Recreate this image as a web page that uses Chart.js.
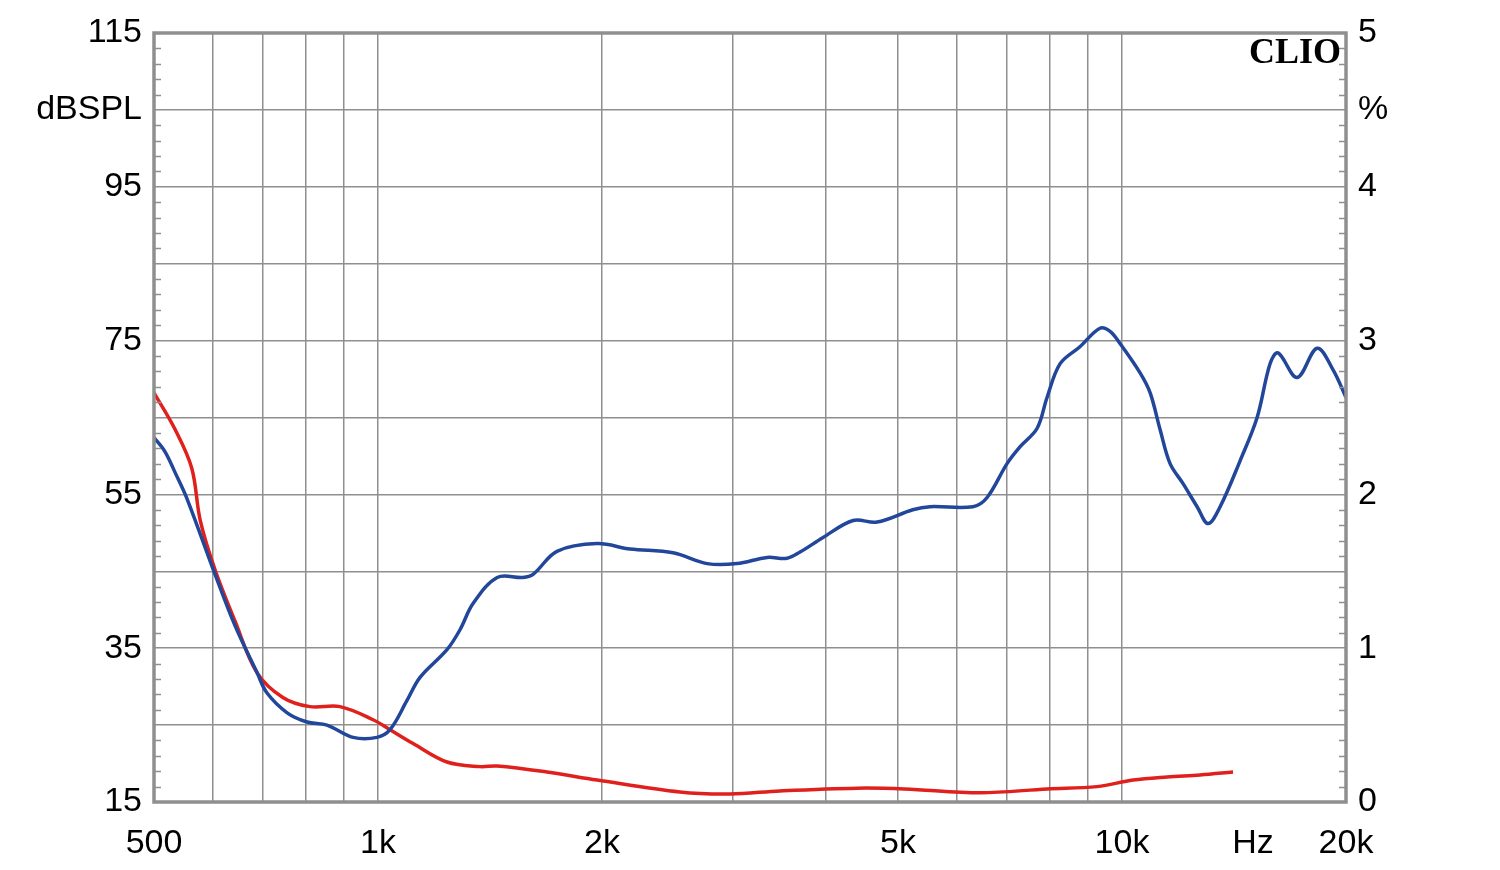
<!DOCTYPE html>
<html>
<head>
<meta charset="utf-8">
<script src="https://cdn.jsdelivr.net/npm/chart.js@4/dist/chart.umd.min.js"></script>
<style>
  html, body { margin: 0; padding: 0; background: #fff; }
  #wrap { width: 1500px; height: 870px; }
</style>
</head>
<body>
<div id="wrap"><canvas id="graf" width="1500" height="870"></canvas></div>
<script>
// blue curve (Hz / %)
const blueFreq = [500, 517, 534, 554, 604, 642, 688, 709, 755, 803, 854, 926, 997, 1038, 1094, 1139, 1238, 1289, 1342, 1446, 1566, 1616, 1740, 1970, 2182, 2492, 2769, 3037, 3334, 3546, 3692, 3965, 4351, 4686, 5233, 5520, 6305, 6587, 7006, 7296, 7690, 7929, 8257, 8779, 9340, 9637, 9942, 10575, 10910, 11252, 11604, 12080, 12616, 13054, 13547, 14415, 15190, 15811, 16208, 17195, 18290, 19216, 20000];
const bluePct = [2.37, 2.28, 2.14, 1.97, 1.48, 1.15, 0.84, 0.71, 0.58, 0.52, 0.50, 0.42, 0.42, 0.47, 0.66, 0.81, 0.99, 1.12, 1.29, 1.46, 1.46, 1.48, 1.63, 1.68, 1.645, 1.62, 1.55, 1.55, 1.59, 1.585, 1.625, 1.72, 1.83, 1.82, 1.90, 1.92, 1.92, 1.98, 2.20, 2.31, 2.43, 2.63, 2.85, 2.96, 3.08, 3.06, 2.98, 2.79, 2.66, 2.42, 2.20, 2.07, 1.92, 1.81, 1.92, 2.22, 2.50, 2.85, 2.92, 2.76, 2.95, 2.81, 2.63];

// red curve (Hz / %)
const redFreq = [500, 534, 562, 577, 604, 642, 688, 745, 810, 889, 985, 1038, 1115, 1238, 1371, 1446, 1687, 1970, 2546, 2972, 3470, 4405, 5100, 6445, 7929, 9257, 10350, 11500, 12730, 14100];
const redPct = [2.66, 2.42, 2.17, 1.83, 1.51, 1.18, 0.84, 0.68, 0.62, 0.62, 0.535, 0.47, 0.38, 0.26, 0.23, 0.234, 0.195, 0.143, 0.065, 0.052, 0.072, 0.09, 0.085, 0.06, 0.085, 0.10, 0.143, 0.163, 0.176, 0.195];

// axes
const xTickValues = [500, 600, 700, 800, 900, 1000, 2000, 3000, 4000, 5000, 6000, 7000, 8000, 9000, 10000, 15000, 20000];
const xTickLabels = ["500", "", "", "", "", "1k", "2k", "", "", "5k", "", "", "", "", "10k", "Hz", "20k"];
const dbTickValues = [15, 35, 55, 75, 95, 105, 115];
const dbTickLabels = ["15", "35", "55", "75", "95", "dBSPL", "115"];
const pctTickValues = [0, 1, 2, 3, 4, 4.5, 5];
const pctTickLabels = ["0", "1", "2", "3", "4", "%", "5"];

const GRIS = "#8f8f8f";
const fonte = { family: "'Liberation Sans', Arial, sans-serif", size: 34 };

function pontos(fs, vs) {
    return fs.map((f, i) => ({ x: f, y: vs[i] }));
}

const moldura = {
    id: "moldura",
    afterDatasetsDraw(chart) {
        const { ctx, chartArea: a } = chart;
        const y = chart.scales.y;
        ctx.save();
        ctx.strokeStyle = GRIS;
        ctx.lineWidth = 1.5;
        for (let v = 17; v < 115; v += 2) {
            if ((v - 15) % 10 === 0) continue;
            const py = Math.round(y.getPixelForValue(v)) + 0.5;
            ctx.beginPath();
            ctx.moveTo(a.left, py); ctx.lineTo(a.left + 7, py);
            ctx.moveTo(a.right, py); ctx.lineTo(a.right - 7, py);
            ctx.stroke();
        }
        ctx.lineWidth = 3.5;
        ctx.strokeRect(a.left, a.top, a.right - a.left, a.bottom - a.top);
        ctx.fillStyle = "#000";
        ctx.font = "bold 36px 'Liberation Serif', 'Times New Roman', serif";
        ctx.textAlign = "right";
        ctx.textBaseline = "alphabetic";
        ctx.fillText("CLIO", a.right - 5, a.top + 30);
        ctx.restore();
    }
};

new Chart(document.getElementById("graf"), {
    type: "line",
    data: {
        datasets: [
            {
                label: "blue",
                data: pontos(blueFreq, bluePct),
                yAxisID: "y1",
                borderColor: "#22479a",
                borderWidth: 3.5,
                pointRadius: 0,
                tension: 0.35
            },
            {
                label: "red",
                data: pontos(redFreq, redPct),
                yAxisID: "y1",
                borderColor: "#e0201c",
                borderWidth: 3.5,
                pointRadius: 0,
                tension: 0.35
            }
        ]
    },
    options: {
        responsive: false,
        animation: false,
        devicePixelRatio: 1,
        layout: { padding: { top: 33, left: 0, right: 0, bottom: 0 } },
        plugins: { legend: { display: false }, tooltip: { enabled: false } },
        scales: {
            x: {
                type: "logarithmic",
                min: 500,
                max: 20000,
                afterBuildTicks: s => { s.ticks = xTickValues.map(v => ({ value: v })); },
                afterFit: s => { s.height = 68; },
                border: { display: false },
                grid: {
                    drawTicks: false,
                    lineWidth: 1.5,
                    color: c => (c.tick && (c.tick.value === 15000 || c.tick.value === 500 || c.tick.value === 20000)) ? "rgba(0,0,0,0)" : GRIS
                },
                ticks: {
                    autoSkip: false,
                    maxRotation: 0,
                    padding: 21,
                    color: "#000",
                    font: fonte,
                    callback: (v, i) => xTickLabels[i]
                }
            },
            y: {
                position: "left",
                min: 15,
                max: 115,
                afterBuildTicks: s => {
                    const t = [];
                    for (let v = 15; v <= 115; v += 10) t.push({ value: v });
                    s.ticks = t;
                },
                afterFit: s => { s.width = 154; },
                border: { display: false },
                grid: {
                    drawTicks: false,
                    lineWidth: 1.5,
                    color: c => (c.tick && (c.tick.value === 15 || c.tick.value === 115)) ? "rgba(0,0,0,0)" : GRIS
                },
                ticks: {
                    padding: 12,
                    color: "#000",
                    font: fonte,
                    callback: v => {
                        const i = dbTickValues.indexOf(v);
                        return i >= 0 ? dbTickLabels[i] : "";
                    }
                }
            },
            y1: {
                position: "right",
                min: 0,
                max: 5,
                afterBuildTicks: s => { s.ticks = pctTickValues.map(v => ({ value: v })); },
                afterFit: s => { s.width = 154; },
                border: { display: false },
                grid: { display: false, drawTicks: false },
                ticks: {
                    padding: 12,
                    color: "#000",
                    font: fonte,
                    callback: (v, i) => pctTickLabels[i]
                }
            }
        }
    },
    plugins: [moldura]
});
</script>
</body>
</html>
